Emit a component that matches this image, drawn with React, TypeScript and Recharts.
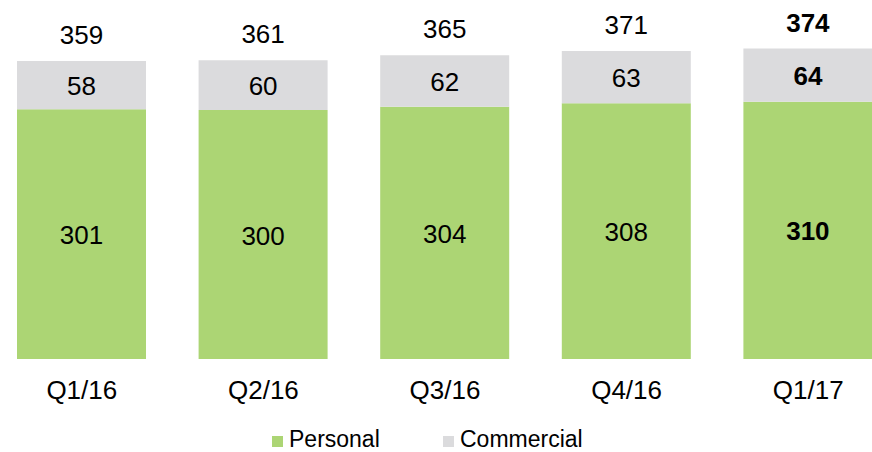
import { BarChart, Bar, XAxis, YAxis, Legend, LabelList } from "recharts"

const quarters = ["Q1/16", "Q2/16", "Q3/16", "Q4/16", "Q1/17"]
const personal = [301, 300, 304, 308, 310]
const commercial = [58, 60, 62, 63, 64]
const totals = [359, 361, 365, 371, 374]

const GREEN = "#acd574"
const GREY = "#dbdbdd"
const FONT = "'Liberation Sans', Arial, sans-serif"

const data = quarters.map((q, i) => ({
  quarter: q,
  personal: personal[i],
  commercial: commercial[i],
  total: totals[i],
}))

const lastIdx = quarters.length - 1

function InnerLabel(props: any) {
  const { x, y, width, height, value, index } = props
  return (
    <text
      x={x + width / 2}
      y={y + height / 2 + 10}
      textAnchor="middle"
      fontSize={26}
      fontFamily={FONT}
      fontWeight={index === lastIdx ? "bold" : "normal"}
      fill="#000"
    >
      {value}
    </text>
  )
}

function TotalLabel(props: any) {
  const { x, y, width, index } = props
  return (
    <text
      x={x + width / 2}
      y={y - 17}
      textAnchor="middle"
      fontSize={26}
      fontFamily={FONT}
      fontWeight={index === lastIdx ? "bold" : "normal"}
      fill="#000"
    >
      {totals[index]}
    </text>
  )
}

function QuarterTick(props: any) {
  const { x, y, payload } = props
  return (
    <text x={x} y={y + 40} textAnchor="middle" fontSize={26} fontFamily={FONT} fill="#000">
      {payload.value}
    </text>
  )
}

function LegendBox() {
  const items = [
    { label: "Personal", color: GREEN, left: 272 },
    { label: "Commercial", color: GREY, left: 443 },
  ]
  return (
    <div style={{ position: "relative", width: 872, height: 24, fontFamily: FONT }}>
      {items.map((it) => (
        <div key={it.label} style={{ position: "absolute", left: it.left, top: 0, height: 24 }}>
          <span
            style={{
              position: "absolute",
              left: 0,
              top: 8,
              width: 11,
              height: 11,
              background: it.color,
            }}
          />
          <span
            style={{
              position: "absolute",
              left: 17,
              top: 0,
              fontSize: 23,
              lineHeight: "23px",
              color: "#000",
              whiteSpace: "nowrap",
            }}
          >
            {it.label}
          </span>
        </div>
      ))}
    </div>
  )
}

export default function App() {
  return (
    <div style={{ position: "absolute", left: 0, top: 0, width: 872, height: 452, overflow: "hidden", background: "#fff" }}>
      <BarChart
        width={872}
        height={452}
        data={data}
        margin={{ top: 27, right: -27, bottom: 39, left: -9 }}
        barSize={129}
      >
        <XAxis
          dataKey="quarter"
          axisLine={false}
          tickLine={false}
          tickSize={0}
          tickMargin={0}
          tick={<QuarterTick />}
          interval={0}
        />
        <YAxis hide domain={[0, 400]} />
        <Legend
          content={() => <LegendBox />}
          wrapperStyle={{ position: "absolute", left: 0, top: 428, width: 872, height: 24 }}
        />
        <Bar dataKey="personal" name="Personal" stackId="a" fill={GREEN} isAnimationActive={false}>
          <LabelList dataKey="personal" content={<InnerLabel />} />
        </Bar>
        <Bar dataKey="commercial" name="Commercial" stackId="a" fill={GREY} isAnimationActive={false}>
          <LabelList dataKey="commercial" content={<InnerLabel />} />
          <LabelList dataKey="total" content={<TotalLabel />} />
        </Bar>
      </BarChart>
    </div>
  )
}
